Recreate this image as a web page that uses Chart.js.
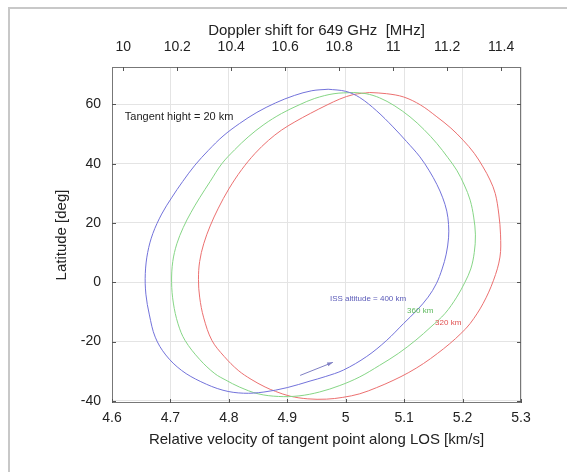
<!DOCTYPE html>
<html><head><meta charset="utf-8">
<script src="https://cdn.jsdelivr.net/npm/chart.js@4"></script>
<style>html,body{margin:0;padding:0;background:#fff}canvas{display:block}</style>
</head><body>
<canvas id="c" width="567" height="472"></canvas>
<script>
const velTicks = [4.6, 4.7, 4.8, 4.9, 5.0, 5.1, 5.2, 5.3];
const mhzTicks = [10, 10.2, 10.4, 10.6, 10.8, 11, 11.2, 11.4];
const latTicks = [-40, -20, 0, 20, 40, 60];
const MHZ_PER_KMS = 649000 / 299792.458;

const blueX = [4.970,5.000,5.024,5.053,5.081,5.104,5.127,5.143,5.156,5.166,5.173,5.176,5.176,5.172,5.165,5.155,5.141,5.122,5.099,5.070,5.036,4.996,4.965,4.939,4.900,4.860,4.825,4.790,4.752,4.719,4.692,4.674,4.664,4.658,4.657,4.661,4.670,4.685,4.702,4.721,4.742,4.765,4.790,4.818,4.848,4.880,4.912,4.942,4.970];
const blueY = [65.1,64.4,62.3,57.8,52.4,47.5,42.3,37.6,33.0,28.5,24.0,19.5,15.0,9.5,4.5,-0.5,-5.0,-9.4,-13.9,-19.6,-25.0,-29.6,-31.8,-33.3,-35.5,-37.0,-37.4,-36.4,-33.5,-29.7,-24.5,-18.5,-11,-4,3,10,16.5,23,28.5,34,39.5,44.5,49.3,53.5,57.3,60.5,63.0,64.6,65.1];

const greenX = [5.013,5.035,5.058,5.083,5.110,5.134,5.156,5.175,5.190,5.203,5.213,5.219,5.222,5.220,5.214,5.204,5.190,5.170,5.146,5.120,5.090,5.058,5.024,4.990,4.955,4.920,4.885,4.850,4.818,4.795,4.776,4.750,4.725,4.713,4.705,4.702,4.704,4.711,4.722,4.735,4.750,4.768,4.788,4.810,4.833,4.860,4.890,4.920,4.947,4.980,5.013];
const greenY = [64.0,63.6,62.2,59.6,55.8,51.5,46.8,42.0,37.8,32.8,27.7,22,16,10,4.5,0,-5.0,-10.5,-15.0,-19.5,-24.0,-28.0,-31.9,-34.8,-37.0,-38.3,-38.5,-37.6,-35.3,-33.0,-30.8,-26,-19.6,-14,-7,0,7,13,18.5,23.5,28.5,34,40.0,44.7,49.0,53.2,56.9,59.8,62.0,63.6,64.0];

const redX = [5.041,5.070,5.099,5.128,5.156,5.180,5.201,5.220,5.235,5.247,5.256,5.262,5.265,5.264,5.253,5.235,5.213,5.197,5.178,5.157,5.133,5.108,5.081,5.053,5.024,4.995,4.967,4.935,4.905,4.880,4.862,4.838,4.816,4.792,4.771,4.757,4.750,4.748,4.750,4.757,4.768,4.782,4.800,4.822,4.845,4.868,4.890,4.913,4.940,4.968,4.990,5.013,5.041];
const redY = [64.0,63.6,62.5,59.8,55.8,52.0,47.9,43.5,38.9,34.5,29.9,23,16,8.5,0.7,-7.2,-13.9,-17.3,-20.7,-24.0,-27.4,-30.4,-33.1,-35.5,-37.6,-38.8,-39.4,-39.3,-38.4,-36.8,-35.3,-32.7,-29.7,-25,-19.6,-12,-5,1,7,13,19,25,31.5,38.0,43.5,47.9,51.3,54.1,57.0,59.8,61.8,63.3,64.0];

const seriesLabels = ['ISS altitude = 400 km', '360 km', '320 km'];
const noteText = 'Tangent hight = 20 km';
const arrowX = [4.922, 4.978];
const arrowY = [-31.4, -27.0];

const toPts = (xs, ys) => xs.map((x, i) => ({x, y: ys[i]}));
const FONT = '"Liberation Sans", Arial, Helvetica, sans-serif';
const fmt = v => String(+Number(v).toFixed(2));

const overlay = {
  id: 'overlay',
  beforeDraw(chart) {
    const ctx = chart.ctx;
    ctx.save();
    ctx.fillStyle = '#fff';
    ctx.fillRect(0, 0, chart.width, chart.height);
    ctx.strokeStyle = '#c8c8c8';
    ctx.lineWidth = 2;
    ctx.beginPath();
    ctx.moveTo(9, chart.height);
    ctx.lineTo(9, 8);
    ctx.lineTo(chart.width, 8);
    ctx.stroke();
    ctx.restore();
  },
  afterDatasetsDraw(chart) {
    const ctx = chart.ctx;
    const a = chart.chartArea;
    const sx = chart.scales.x, sy = chart.scales.y, sx2 = chart.scales.x2;
    ctx.save();
    ctx.strokeStyle = '#777';
    ctx.lineWidth = 1;
    ctx.strokeRect(a.left + 0.5, a.top + 0.5, a.right - a.left - 1, a.bottom - a.top - 1);
    ctx.strokeStyle = '#555';
    ctx.beginPath();
    const L = 4;
    velTicks.forEach(v => { const p = Math.round(sx.getPixelForValue(v)) + 0.5; ctx.moveTo(p, a.bottom); ctx.lineTo(p, a.bottom - L); });
    mhzTicks.forEach(v => { const p = Math.round(sx2.getPixelForValue(v)) + 0.5; ctx.moveTo(p, a.top); ctx.lineTo(p, a.top + L); });
    latTicks.forEach(v => { const p = Math.round(sy.getPixelForValue(v)) + 0.5; ctx.moveTo(a.left, p); ctx.lineTo(a.left + L, p); ctx.moveTo(a.right, p); ctx.lineTo(a.right - L, p); });
    ctx.stroke();
    ctx.textBaseline = 'middle';
    ctx.textAlign = 'left';
    ctx.fillStyle = '#222';
    ctx.font = '11px ' + FONT;
    ctx.fillText(noteText, sx.getPixelForValue(4.622), sy.getPixelForValue(55.6));
    ctx.font = '8px ' + FONT;
    ctx.fillStyle = '#5a5ab8';
    ctx.fillText(seriesLabels[0], sx.getPixelForValue(4.973), sy.getPixelForValue(-5.7));
    ctx.fillStyle = '#5cb85c';
    ctx.fillText(seriesLabels[1], sx.getPixelForValue(5.105), sy.getPixelForValue(-9.7));
    ctx.fillStyle = '#e05050';
    ctx.fillText(seriesLabels[2], sx.getPixelForValue(5.153), sy.getPixelForValue(-13.7));
    const x0 = sx.getPixelForValue(arrowX[0]), y0 = sy.getPixelForValue(arrowY[0]);
    const x1 = sx.getPixelForValue(arrowX[1]), y1 = sy.getPixelForValue(arrowY[1]);
    ctx.strokeStyle = '#8080c4';
    ctx.fillStyle = '#8080c4';
    ctx.lineWidth = 1;
    ctx.beginPath(); ctx.moveTo(x0, y0); ctx.lineTo(x1, y1); ctx.stroke();
    const ang = Math.atan2(y1 - y0, x1 - x0);
    ctx.beginPath();
    ctx.moveTo(x1, y1);
    ctx.lineTo(x1 - 6 * Math.cos(ang - 0.35), y1 - 6 * Math.sin(ang - 0.35));
    ctx.lineTo(x1 - 6 * Math.cos(ang + 0.35), y1 - 6 * Math.sin(ang + 0.35));
    ctx.closePath(); ctx.fill();
    ctx.restore();
  }
};

const lineDs = (label, pts, color) => ({
  label, data: pts, showLine: true, borderColor: color, borderWidth: 1,
  pointRadius: 0, tension: 0.35, fill: false
});

new Chart(document.getElementById('c'), {
  type: 'scatter',
  data: {
    datasets: [
      lineDs(seriesLabels[0], toPts(blueX, blueY), '#7373db'),
      lineDs(seriesLabels[1], toPts(greenX, greenY), '#86d686'),
      lineDs(seriesLabels[2], toPts(redX, redY), '#ec7070')
    ]
  },
  options: {
    responsive: false,
    animation: false,
    devicePixelRatio: 1,
    layout: { padding: { left: 0, right: 46, top: 0, bottom: 0 } },
    plugins: { legend: { display: false }, tooltip: { enabled: false } },
    scales: {
      x: {
        type: 'linear', position: 'bottom', min: 4.6, max: 5.3,
        afterBuildTicks: s => { s.ticks = velTicks.map(v => ({ value: v })); },
        afterFit: s => { s.height = 69; },
        grid: { color: '#e4e4e4', drawTicks: false },
        border: { display: false },
        ticks: { callback: fmt, padding: 7, color: '#222', font: { family: FONT, size: 14 }, maxRotation: 0 },
        title: { display: true, text: 'Relative velocity of tangent point along LOS [km/s]', color: '#222', font: { family: FONT, size: 15 }, padding: { top: 0, bottom: 23 } }
      },
      x2: {
        type: 'linear', position: 'top', min: 4.6 * MHZ_PER_KMS, max: 5.3 * MHZ_PER_KMS,
        afterBuildTicks: s => { s.ticks = mhzTicks.map(v => ({ value: v })); },
        afterFit: s => { s.height = 67; },
        grid: { display: false, drawTicks: false },
        border: { display: false },
        ticks: { callback: fmt, padding: 11, color: '#222', font: { family: FONT, size: 14 }, maxRotation: 0 },
        title: { display: true, text: 'Doppler shift for 649 GHz  [MHz]', color: '#222', font: { family: FONT, size: 15 }, padding: { top: 22, bottom: 0 } }
      },
      y: {
        type: 'linear', position: 'left', min: -40.7, max: 72.6,
        afterBuildTicks: s => { s.ticks = latTicks.map(v => ({ value: v })); },
        afterFit: s => { s.width = 112; },
        grid: { color: '#e4e4e4', drawTicks: false },
        border: { display: false },
        ticks: { callback: fmt, padding: 11, color: '#222', font: { family: FONT, size: 14 } },
        title: { display: true, text: 'Latitude [deg]', color: '#222', font: { family: FONT, size: 15 }, padding: { top: 53, bottom: 0 } }
      }
    }
  },
  plugins: [overlay]
});
</script>
</body></html>
